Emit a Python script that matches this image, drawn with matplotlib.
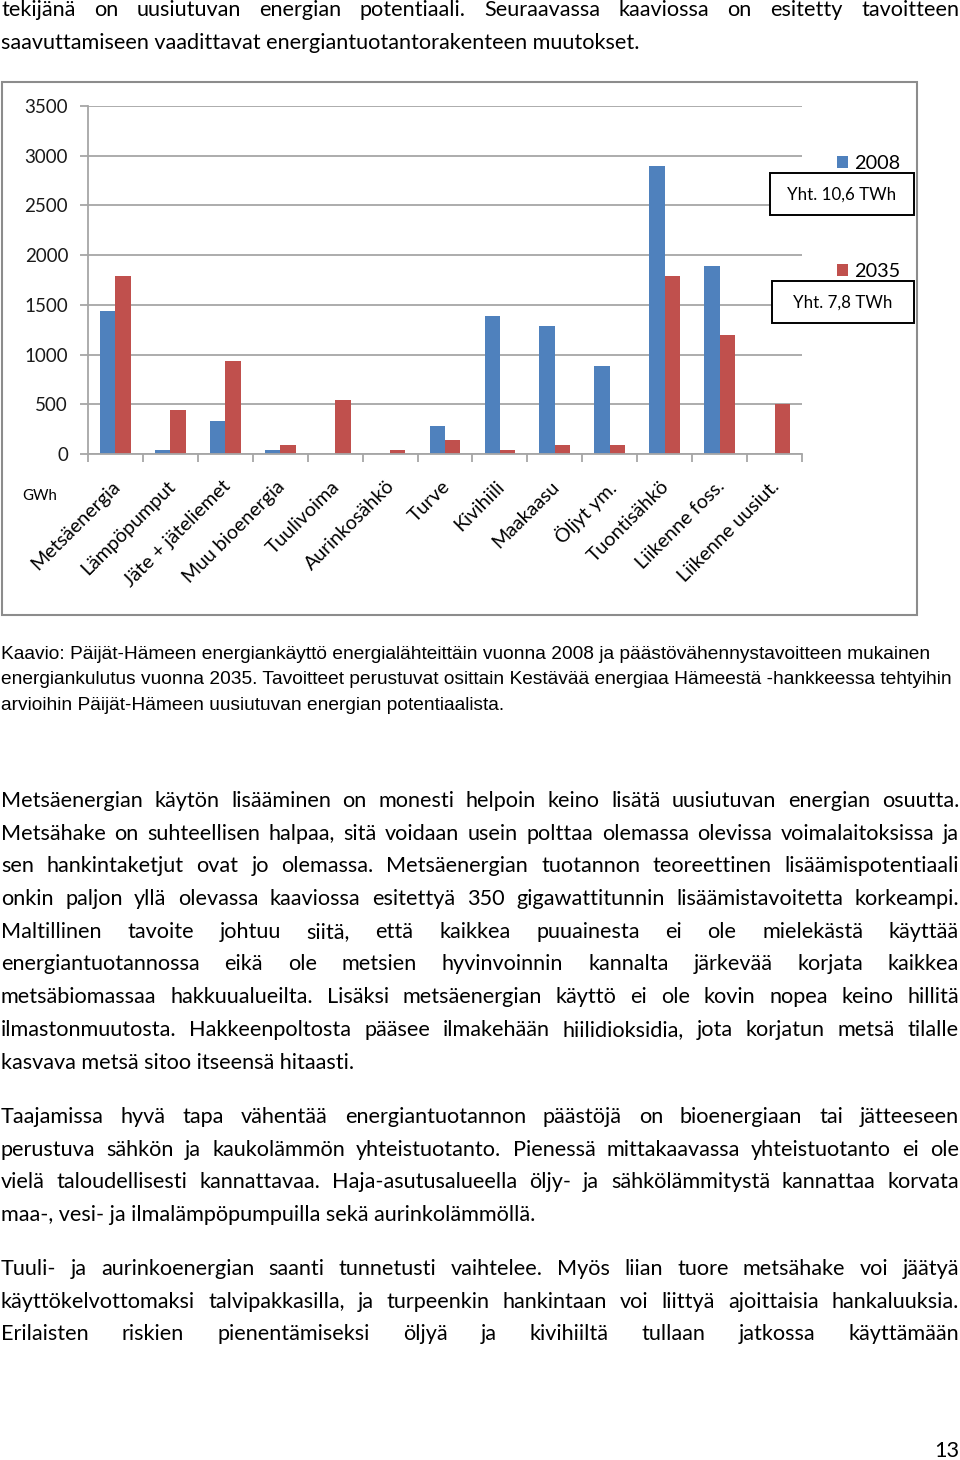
import matplotlib
matplotlib.use('Agg')
import matplotlib.pyplot as plt
import matplotlib.transforms as mtransforms
from matplotlib.patches import Rectangle

# Chart data (GWh)
categories = ['Metsäenergia', 'Lämpöpumput', 'Jäte + jäteliemet', 'Muu bioenergia',
              'Tuulivoima', 'Aurinkosähkö', 'Turve', 'Kivihiili', 'Maakaasu',
              'Öljyt ym.', 'Tuontisähkö', 'Liikenne foss.', 'Liikenne uusiut.']
gwh_2008 = [1440, 40, 335, 40, 0, 0, 285, 1390, 1290, 890, 2900, 1890, 0]
gwh_2035 = [1790, 440, 940, 90, 540, 40, 140, 40, 90, 90, 1790, 1200, 500]
years = ['2008', '2035']
totals = ['Yht. 10,6 TWh', 'Yht. 7,8 TWh']
y_ticks = [0, 500, 1000, 1500, 2000, 2500, 3000, 3500]

# Page text, line by line as in the document
intro_lines = [
    'tekijänä on uusiutuvan energian potentiaali. Seuraavassa kaaviossa on esitetty tavoitteen',
    'saavuttamiseen vaadittavat energiantuotantorakenteen muutokset.',
]
caption_lines = [
    'Kaavio: Päijät-Hämeen energiankäyttö energialähteittäin vuonna 2008 ja päästövähennystavoitteen mukainen',
    'energiankulutus vuonna 2035. Tavoitteet perustuvat osittain Kestävää energiaa Hämeestä -hankkeessa tehtyihin',
    'arvioihin Päijät-Hämeen uusiutuvan energian potentiaalista.',
]
para1 = [
    'Metsäenergian käytön lisääminen on monesti helpoin keino lisätä uusiutuvan energian osuutta.',
    'Metsähake on suhteellisen halpaa, sitä voidaan usein polttaa olemassa olevissa voimalaitoksissa ja',
    'sen hankintaketjut ovat jo olemassa. Metsäenergian tuotannon teoreettinen lisäämispotentiaali',
    'onkin paljon yllä olevassa kaaviossa esitettyä 350 gigawattitunnin lisäämistavoitetta korkeampi.',
    'Maltillinen tavoite johtuu siitä, että kaikkea puuainesta ei ole mielekästä käyttää',
    'energiantuotannossa eikä ole metsien hyvinvoinnin kannalta järkevää korjata kaikkea',
    'metsäbiomassaa hakkuualueilta. Lisäksi metsäenergian käyttö ei ole kovin nopea keino hillitä',
    'ilmastonmuutosta. Hakkeenpoltosta pääsee ilmakehään hiilidioksidia, jota korjatun metsä tilalle',
    'kasvava metsä sitoo itseensä hitaasti.',
]
para2 = [
    'Taajamissa hyvä tapa vähentää energiantuotannon päästöjä on bioenergiaan tai jätteeseen',
    'perustuva sähkön ja kaukolämmön yhteistuotanto. Pienessä mittakaavassa yhteistuotanto ei ole',
    'vielä taloudellisesti kannattavaa. Haja-asutusalueella öljy- ja sähkölämmitystä kannattaa korvata',
    'maa-, vesi- ja ilmalämpöpumpuilla sekä aurinkolämmöllä.',
]
para3 = [
    'Tuuli- ja aurinkoenergian saanti tunnetusti vaihtelee. Myös liian tuore metsähake voi jäätyä',
    'käyttökelvottomaksi talvipakkasilla, ja turpeenkin hankintaan voi liittyä ajoittaisia hankaluuksia.',
    'Erilaisten riskien pienentämiseksi öljyä ja kivihiiltä tullaan jatkossa käyttämään',
]

plt.rcParams['font.family'] = ['Lato', 'DejaVu Sans']

BLUE = '#4f81bd'
RED = '#c0504d'
GRID = '#a6a6a6'
BODY = 15.6

fig = plt.figure(figsize=(9.6, 14.6), dpi=100)

# page overlay in pixel coordinates (y down)
page = fig.add_axes([0, 0, 1, 1])
page.set_xlim(0, 960)
page.set_ylim(1460, 0)
page.axis('off')
page.set_zorder(3)

renderer = fig.canvas.get_renderer()


def put_line(text, y, justify, size=BODY, family=None):
    kw = dict(fontsize=size, va='baseline', ha='left', color='black')
    if family:
        kw['family'] = family
    if not justify:
        page.text(1, y, text, **kw)
        return
    words = text.split(' ')
    items = [page.text(0, y, w, **kw) for w in words]
    widths = [t.get_window_extent(renderer).width for t in items]
    gap = max((959 - 1 - sum(widths)) / (len(words) - 1), 3)
    x = 1
    for t, w in zip(items, widths):
        t.set_x(x)
        x += w + gap


def put_paragraph(lines, y0, step=32.7, last_justified=False):
    for i, line in enumerate(lines):
        last = i == len(lines) - 1
        put_line(line, y0 + i * step, justify=(not last) or last_justified)


put_paragraph(intro_lines, 16)
put_paragraph(para1, 807)
put_paragraph(para2, 1123)
put_paragraph(para3, 1275, last_justified=True)
for i, line in enumerate(caption_lines):
    put_line(line, 659 + i * 25.5, False, size=13.8, family='Liberation Sans')
page.text(959, 1457, '13', fontsize=BODY, ha='right', va='baseline')

# chart frame and boxes
page.add_patch(Rectangle((2, 82), 915, 533, fill=False, edgecolor='#8c8c8c', lw=1.5))
page.text(22, 496, 'GWh', fontsize=10.8, va='center', ha='left')
for (x0, y0, x1, y1), label in zip([(770, 173, 914, 215), (772, 281, 914, 323)], totals):
    page.add_patch(Rectangle((x0, y0), x1 - x0, y1 - y0, facecolor='white',
                             edgecolor='black', lw=1.4))
    page.text((x0 + x1) / 2, (y0 + y1) / 2 + 1, label, fontsize=12.2,
              ha='center', va='center')

# the bar chart itself
ax = fig.add_axes([88 / 960, 1 - 454 / 1460, 714 / 960, 348 / 1460])
x = list(range(len(categories)))
w = 0.28
b1 = ax.bar([i - w / 2 for i in x], gwh_2008, w, color=BLUE, label=years[0])
b2 = ax.bar([i + w / 2 for i in x], gwh_2035, w, color=RED, label=years[1])

ax.set_xlim(-0.5, len(categories) - 0.5)
ax.set_ylim(0, 3500)
ax.set_yticks(y_ticks)
ax.yaxis.grid(True, color=GRID, lw=1.3)
ax.set_axisbelow(True)
for s in ['top', 'right']:
    ax.spines[s].set_visible(False)
for s in ['left', 'bottom']:
    ax.spines[s].set_color(GRID)
    ax.spines[s].set_linewidth(1.3)

ax.set_xticks(x)
ax.set_xticklabels(categories, rotation=45, ha='right', rotation_mode='anchor')
ax.set_xticks([i - 0.5 for i in range(len(categories) + 1)], minor=True)
ax.tick_params(axis='x', which='major', length=0, pad=17, labelsize=14.1)
ax.tick_params(axis='x', which='minor', length=5.5, color=GRID, width=1.3)
ax.tick_params(axis='y', length=5.8, color=GRID, width=1.3, pad=8.5,
               labelsize=13.5, labelcolor='#1a1a1a')
# nudge the slanted labels a few pixels left, like in the original
shift = mtransforms.ScaledTranslation(-4 / 100, 0, fig.dpi_scale_trans)
for lab in ax.get_xticklabels():
    lab.set_transform(lab.get_transform() + shift)

ax.legend(handles=[b1, b2], labels=years, loc='upper left',
          bbox_to_anchor=(837, 155), bbox_transform=page.transData,
          frameon=False, fontsize=14.3, labelspacing=4.6,
          handlelength=0.55, handleheight=0.55, handletextpad=0.3,
          borderpad=0, borderaxespad=0)

fig.savefig('out.png', dpi=100)
